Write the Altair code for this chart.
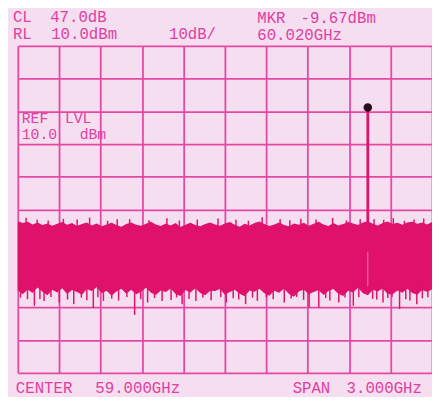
import altair as alt
import pandas as pd

# ---- data ----
START_GHZ = 57.5
STOP_GHZ = 60.5
REF_DBM = 10.0
BOTTOM_DBM = -90.0

# upper edge of the noise floor (dBm), sampled left to right
noise_top = [-43.6, -44.2, -43.8, -44.6, -44.0, -44.8, -44.3, -45.0, -44.4, -43.9,
             -44.7, -44.2, -45.1, -44.5, -44.0, -44.9, -44.3, -45.2, -44.6, -44.1,
             -44.8, -45.3, -44.5, -44.0, -44.7, -45.0, -44.4, -43.8, -44.6, -45.1,
             -44.3, -44.9, -44.2, -45.4, -44.7, -44.1, -44.8, -45.2, -44.5, -44.0,
             -44.6, -45.0, -44.3, -43.9, -44.7, -45.3, -44.4, -44.9, -44.2, -43.7,
             -44.5, -45.1, -44.6, -44.0, -44.8, -45.2, -44.3, -44.7, -44.1, -45.0,
             -44.4, -43.8, -44.6, -45.1, -44.2, -44.9, -44.5, -43.9, -44.3, -44.8,
             -44.0, -43.6, -44.4, -44.9, -44.2, -43.7, -44.5, -44.1, -44.7, -44.0,
             -43.8, -44.4, -44.0, -44.6, -43.9]
# lower edge of the dense noise (dBm)
noise_bottom = [-64.8, -66.0, -64.5, -65.6, -63.9, -65.2, -66.3, -64.6, -65.4, -64.1,
                -65.9, -64.7, -65.3, -66.1, -64.4, -65.0, -63.8, -65.7, -64.9, -66.4,
                -65.1, -64.3, -65.8, -64.6, -66.0, -65.2, -64.0, -65.5, -66.2, -64.8,
                -65.3, -64.2, -65.9, -66.5, -64.7, -65.4, -64.1, -65.6, -66.3, -64.9,
                -65.0, -64.4, -66.1, -65.3, -64.6, -65.8, -66.6, -64.8, -65.2, -64.3,
                -65.7, -66.4, -64.9, -65.5, -64.2, -65.9, -66.7, -65.1, -64.5, -66.0,
                -65.3, -64.7, -66.2, -65.0, -64.4, -65.8, -66.5, -64.9, -65.4, -64.0,
                -65.7, -66.3, -64.6, -65.1, -64.2, -65.9, -66.0, -64.8, -65.5, -64.3,
                -65.6, -66.1, -64.7, -65.2, -64.5]

# downward noise spikes
down_freq = [57.57, 57.62, 57.69, 57.80, 57.905, 58.047, 58.12, 58.346, 58.44, 58.545,
             58.69, 58.79, 59.01, 59.15, 59.235, 59.43, 59.61, 59.68, 59.825, 59.93,
             60.145, 60.265, 60.39,
             57.52, 57.66, 57.74, 57.86, 57.96, 58.00, 58.08, 58.18, 58.23, 58.29,
             58.39, 58.49, 58.61, 58.65, 58.74, 58.84, 58.90, 58.97, 59.06, 59.10,
             59.20, 59.30, 59.35, 59.48, 59.52, 59.57, 59.73, 59.76, 59.87, 59.97,
             60.07, 60.10, 60.18, 60.21, 60.31, 60.34, 60.43, 60.47]
down_dbm = [-67.5, -69.5, -68.0, -68.5, -69.0, -70.2, -68.0, -72.3, -68.5, -68.0,
            -69.0, -68.0, -68.5, -69.0, -68.0, -68.5, -70.0, -70.0, -68.5, -69.5,
            -68.5, -70.5, -69.0,
            -67.0, -67.4, -66.8, -67.6, -67.0, -67.8, -66.9, -67.3, -67.9, -66.8,
            -67.5, -67.1, -67.7, -66.9, -67.4, -67.0, -67.8, -66.8, -67.2, -67.6,
            -67.0, -66.9, -67.5, -67.3, -66.8, -67.7, -67.1, -67.9, -67.0, -66.9,
            -67.4, -67.6, -67.1, -66.8, -67.5, -67.9, -67.2, -66.9]
# small upward spikes
up_freq = [57.56, 57.83, 58.02, 58.31, 58.58, 58.95, 59.27, 59.55, 59.78, 59.98, 60.22, 60.44,
           57.64, 57.72, 57.93, 58.15, 58.22, 58.45, 58.67, 58.80, 59.08, 59.17, 59.40,
           59.47, 59.66, 59.88, 60.08, 60.15, 60.30, 60.37]
up_dbm = [-42.6, -42.9, -42.5, -43.0, -42.7, -42.8, -42.4, -42.9, -42.6, -43.0, -42.7, -42.8,
          -43.2, -43.4, -43.1, -43.5, -43.0, -43.3, -43.4, -43.1, -43.2, -43.5, -43.0,
          -43.3, -43.1, -43.4, -43.0, -43.2, -43.5, -43.1]

# carrier and marker
carrier_ghz = 60.035
carrier_dbm = -8.8
carrier_base_dbm = -44.0

x_grid = [57.5, 57.8, 58.1, 58.4, 58.7, 59.0, 59.3, 59.6, 59.9, 60.2, 60.5]
y_grid = [10, 0, -10, -20, -30, -40, -50, -60, -70, -80, -90]

# ---- tables ----
n = len(noise_top)
freqs = [START_GHZ + i * (STOP_GHZ - START_GHZ) / (n - 1) for i in range(n)]
band_df = pd.DataFrame({"f": freqs, "top": noise_top, "bot": noise_bottom})
down_df = pd.DataFrame({"f": down_freq, "lo": down_dbm, "hi": [-63.0] * len(down_freq)})
up_df = pd.DataFrame({"f": up_freq, "hi": up_dbm, "lo": [-46.0] * len(up_freq)})
car_df = pd.DataFrame({"f": [carrier_ghz], "peak": [carrier_dbm], "base": [carrier_base_dbm]})

BG = "#f4def0"
GRID = "#e548a2"
TRACE = "#df116a"
TEXT = "#e040a0"
FONT = "Liberation Mono"

xs = alt.Scale(domain=[START_GHZ, STOP_GHZ], nice=False, zero=False)
ys = alt.Scale(domain=[BOTTOM_DBM, REF_DBM], nice=False, zero=False)
xax = alt.Axis(values=x_grid, grid=True, labels=False, ticks=False, domain=False, title=None,
               gridColor=GRID, gridWidth=1.8, gridOpacity=1)
yax = alt.Axis(values=y_grid, grid=True, labels=False, ticks=False, domain=False, title=None,
               gridColor=GRID, gridWidth=1.8, gridOpacity=1)


def X(field):
    return alt.X(field, type="quantitative", scale=xs, axis=xax)


def Y(field):
    return alt.Y(field, type="quantitative", scale=ys, axis=yax)


band = alt.Chart(band_df).mark_area(color=TRACE, opacity=1, interpolate="linear").encode(
    x=X("f"), y=Y("top"), y2="bot")
down = alt.Chart(down_df).mark_rule(color=TRACE, strokeWidth=1.5).encode(
    x=X("f"), y=Y("lo"), y2="hi")
up = alt.Chart(up_df).mark_rule(color=TRACE, strokeWidth=1.5).encode(
    x=X("f"), y=Y("hi"), y2="lo")
carrier = alt.Chart(car_df).mark_rule(color=TRACE, strokeWidth=2.8).encode(
    x=X("f"), y=Y("peak"), y2="base")
inner = alt.Chart(car_df).mark_rule(color="#ec7db0", strokeWidth=1).encode(
    x=X("f"), y=alt.value(210), y2=alt.value(245))
dot = alt.Chart(car_df).mark_circle(color="#2a0d1c", size=75, opacity=1).encode(
    x=X("f"), y=Y("peak"))


def label(txt, x, y, size=16):
    # x, y: page pixels of the text's left end and baseline
    return alt.Chart(car_df).mark_text(
        text=txt, font=FONT, fontSize=size, color=TEXT, align="left", baseline="alphabetic"
    ).encode(x=alt.value(x - 18), y=alt.value(y - 43))


labels = [
    label("CL", 13, 19),
    label("47.0dB", 51, 19),
    label("RL", 13, 36),
    label("10.0dBm", 52, 36),
    label("10dB/", 172, 36),
    label("MKR", 262, 20),
    label("-9.67dBm", 306, 20),
    label("60.020GHz", 262, 37),
    label("REF", 22, 122, 15),
    label("LVL", 66, 122, 15),
    label("10.0", 22, 138, 15),
    label("dBm", 81, 138, 15),
    label("CENTER", 16, 397),
    label("59.000GHz", 97, 397),
    label("SPAN", 298, 397),
    label("3.000GHz", 353, 397),
]

chart = alt.layer(band, down, up, carrier, inner, dot, *labels).properties(
    width=422,
    height=333,
    autosize=alt.AutoSizeParams(type="none"),
    padding={"left": 10, "top": 35, "right": 0, "bottom": 21},
    background=BG,
).configure_view(stroke=None, fill=BG)

chart.save("out.html", embed_options={"renderer": "svg", "actions": False})
